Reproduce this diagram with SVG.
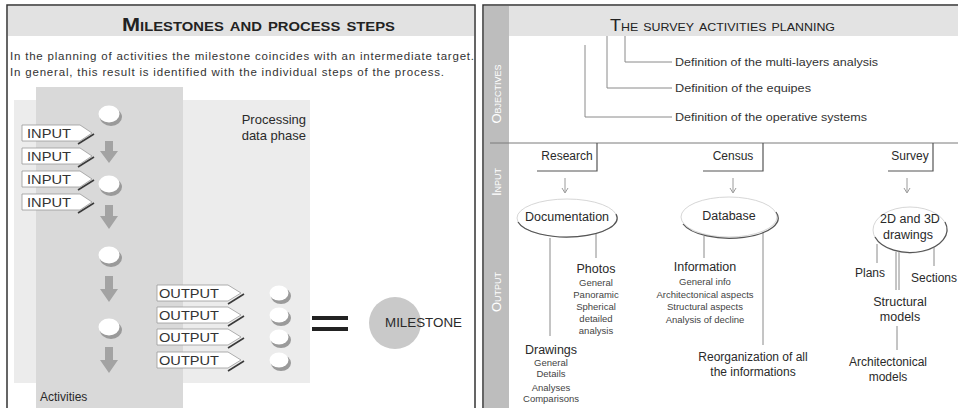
<svg xmlns="http://www.w3.org/2000/svg" width="958" height="408" viewBox="0 0 958 408">
<style>
text{font-family:"Liberation Sans",Arial,sans-serif;fill:#2a2a2a}
.ttl{font-size:19px;font-variant:small-caps;font-weight:bold;fill:#222}
.ttl2{font-size:16px;font-variant:small-caps;fill:#222}
.intro{font-size:11.5px;fill:#333}
.tag{fill:#fff;stroke:#9a9a9a;stroke-width:0.8}
.tsh{stroke:#3a3a3a;stroke-width:1.6;fill:none}
.tagt{font-size:13px;fill:#333}
.sh{fill:#9a9a9a}
.wc{fill:#fff}
.blk{fill:#a3a3a3}
.ln{stroke:#8a8a8a;stroke-width:1;fill:none}
.def{font-size:11px;fill:#333}
.side{font-size:13px;font-variant:small-caps;fill:#fff;text-anchor:middle}
.lbl{font-size:12px;text-anchor:middle}
.big{font-size:12.5px;text-anchor:middle}
.sm{font-size:9.5px;text-anchor:middle;fill:#444}
.box{fill:#fff}
.boxsh{stroke:#555;stroke-width:1.2;fill:none}
.ell{fill:#fff;stroke:#ccc;stroke-width:0.8}
.ellsh{stroke:#555;stroke-width:1.2;fill:none}
</style>
<rect width="958" height="408" fill="#fff"/>

<!-- LEFT PANEL -->
<g id="left-panel">
<rect x="7" y="5" width="468" height="410" fill="#fff" stroke="#333" stroke-width="1.5"/>
<rect x="8" y="6" width="466" height="30" fill="#e2e2e2"/>
<text class="ttl" x="122" y="31" textLength="273" lengthAdjust="spacingAndGlyphs">Milestones and process steps</text>
<text class="intro" x="10" y="60" textLength="464" lengthAdjust="spacing">In the planning of activities the milestone coincides with an intermediate target.</text>
<text class="intro" x="10" y="76" textLength="434" lengthAdjust="spacing">In general, this result is identified with the individual steps of the process.</text>
<rect x="14" y="100" width="296" height="283" fill="#ececec"/>
<rect x="36" y="87" width="147" height="321" fill="#d9d9d9"/>
<text x="306" y="124" font-size="13" text-anchor="end" fill="#333">Processing</text>
<text x="306" y="140" font-size="13" text-anchor="end" fill="#333">data phase</text>
<text x="40" y="401" font-size="12" fill="#333">Activities</text>
</g>

<g id="connectors-left">
<polygon class="blk" points="105,141 113,141 113,151 118,151 109,163 100,151 105,151"/>
<polygon class="blk" points="105,205 113,205 113,216 118,216 109,229 100,216 105,216"/>
<polygon class="blk" points="105,276 113,276 113,289 118,289 109,302 100,289 105,289"/>
<polygon class="blk" points="105,347 113,347 113,360 118,360 109,373 100,360 105,360"/>
</g>

<g id="activity-steps">
<ellipse class="sh" cx="111" cy="117" rx="11" ry="9"/><ellipse class="wc" cx="109" cy="114" rx="10.5" ry="8.5"/>
<ellipse class="sh" cx="111" cy="187" rx="11" ry="9"/><ellipse class="wc" cx="109" cy="184" rx="10.5" ry="8.5"/>
<ellipse class="sh" cx="111" cy="258" rx="11" ry="9"/><ellipse class="wc" cx="109" cy="255" rx="10.5" ry="8.5"/>
<ellipse class="sh" cx="111" cy="330" rx="11" ry="9"/><ellipse class="wc" cx="109" cy="327" rx="10.5" ry="8.5"/>
</g>

<g id="input-1"><line class="tsh" x1="78" y1="144" x2="94" y2="134"/><polygon class="tag" points="22,125 80,125 92,133 80,141 22,141"/><text class="tagt" x="27" y="138" textLength="44" lengthAdjust="spacingAndGlyphs">INPUT</text></g>
<g id="input-2"><line class="tsh" x1="78" y1="167" x2="94" y2="157"/><polygon class="tag" points="22,148 80,148 92,156 80,164 22,164"/><text class="tagt" x="27" y="161" textLength="44" lengthAdjust="spacingAndGlyphs">INPUT</text></g>
<g id="input-3"><line class="tsh" x1="78" y1="190" x2="94" y2="180"/><polygon class="tag" points="22,171 80,171 92,179 80,187 22,187"/><text class="tagt" x="27" y="184" textLength="44" lengthAdjust="spacingAndGlyphs">INPUT</text></g>
<g id="input-4"><line class="tsh" x1="78" y1="213" x2="94" y2="203"/><polygon class="tag" points="22,194 80,194 92,202 80,210 22,210"/><text class="tagt" x="27" y="207" textLength="44" lengthAdjust="spacingAndGlyphs">INPUT</text></g>

<g id="output-1"><line class="tsh" x1="228" y1="304" x2="244" y2="294"/><polygon class="tag" points="157,285 228,285 241,293 228,301 157,301"/><text class="tagt" x="159" y="298" textLength="60" lengthAdjust="spacingAndGlyphs">OUTPUT</text></g>
<g id="output-2"><line class="tsh" x1="228" y1="326" x2="244" y2="316"/><polygon class="tag" points="157,307 228,307 241,315 228,323 157,323"/><text class="tagt" x="159" y="320" textLength="60" lengthAdjust="spacingAndGlyphs">OUTPUT</text></g>
<g id="output-3"><line class="tsh" x1="228" y1="348" x2="244" y2="338"/><polygon class="tag" points="157,329 228,329 241,337 228,345 157,345"/><text class="tagt" x="159" y="342" textLength="60" lengthAdjust="spacingAndGlyphs">OUTPUT</text></g>
<g id="output-4"><line class="tsh" x1="228" y1="371" x2="244" y2="361"/><polygon class="tag" points="157,352 228,352 241,360 228,368 157,368"/><text class="tagt" x="159" y="365" textLength="60" lengthAdjust="spacingAndGlyphs">OUTPUT</text></g>

<g id="output-steps">
<ellipse class="sh" cx="281" cy="296" rx="10" ry="8"/><ellipse class="wc" cx="279" cy="293" rx="9.5" ry="7.5"/>
<ellipse class="sh" cx="281" cy="318" rx="10" ry="8"/><ellipse class="wc" cx="279" cy="315" rx="9.5" ry="7.5"/>
<ellipse class="sh" cx="281" cy="340" rx="10" ry="8"/><ellipse class="wc" cx="279" cy="337" rx="9.5" ry="7.5"/>
<ellipse class="sh" cx="281" cy="363" rx="10" ry="8"/><ellipse class="wc" cx="279" cy="360" rx="9.5" ry="7.5"/>
</g>

<g id="equals">
<rect x="312" y="316" width="36" height="4" fill="#222"/>
<rect x="312" y="327" width="36" height="4" fill="#222"/>
</g>

<g id="milestone">
<circle cx="395" cy="323" r="26" fill="#c9c9c9"/>
<text x="385" y="327" font-size="12" fill="#333" textLength="77" lengthAdjust="spacingAndGlyphs">MILESTONE</text>
</g>

<!-- RIGHT PANEL -->
<g id="right-panel">
<rect x="483" y="5" width="480" height="410" fill="#fff" stroke="#333" stroke-width="1.5"/>
<rect x="484" y="6" width="25" height="402" fill="#bdbdbd"/>
<rect x="509" y="6" width="449" height="30" fill="#e3e3e3"/>
<text class="ttl2" x="610" y="31" textLength="225" lengthAdjust="spacingAndGlyphs">The survey activities planning</text>
<text class="side" transform="translate(501,94) rotate(-90)">Objectives</text>
<text class="side" transform="translate(501,182) rotate(-90)">Input</text>
<text class="side" transform="translate(501,292) rotate(-90)">Output</text>
</g>

<g id="connectors-right">
<polyline class="ln" points="625,36 625,62 672,62"/>
<polyline class="ln" points="607,36 607,88 672,88"/>
<polyline class="ln" points="585,45 585,117 672,117"/>
<line x1="490" y1="143" x2="958" y2="143" stroke="#7a7a7a" stroke-width="1"/>
<g stroke="#9a9a9a" stroke-width="1" fill="none">
<path d="M565,178 V192 M562,188 L565,193 L568,188"/>
<path d="M733,178 V192 M730,188 L733,193 L736,188"/>
<path d="M907,178 V192 M904,188 L907,193 L910,188"/>
</g>
<line class="ln" x1="550" y1="238" x2="550" y2="336"/>
<line class="ln" x1="596" y1="234" x2="596" y2="258"/>
<line class="ln" x1="704" y1="236" x2="704" y2="258"/>
<line class="ln" x1="763" y1="232" x2="763" y2="345"/>
<line class="ln" x1="877" y1="244" x2="877" y2="263"/>
<line class="ln" x1="896" y1="252" x2="896" y2="290"/>
<line class="ln" x1="899" y1="252" x2="899" y2="290"/>
<line class="ln" x1="934" y1="242" x2="934" y2="266"/>
<line class="ln" x1="897" y1="326" x2="897" y2="350"/>
</g>

<g id="objectives">
<text class="def" x="675" y="66" textLength="203" lengthAdjust="spacingAndGlyphs">Definition of the multi-layers analysis</text>
<text class="def" x="675" y="92" textLength="136" lengthAdjust="spacingAndGlyphs">Definition of the equipes</text>
<text class="def" x="675" y="121" textLength="192" lengthAdjust="spacingAndGlyphs">Definition of the operative systems</text>
</g>

<g id="research"><rect class="box" x="537" y="144" width="60" height="27"/><polyline class="boxsh" points="537,171 597,171 597,143"/><text class="lbl" x="567" y="160" font-size="10.5">Research</text></g>
<g id="census"><rect class="box" x="703" y="144" width="60" height="27"/><polyline class="boxsh" points="703,171 763,171 763,143"/><text class="lbl" x="733" y="160" font-size="10.5">Census</text></g>
<g id="survey"><rect class="box" x="888" y="144" width="45" height="27"/><polyline class="boxsh" points="888,171 933,171 933,143"/><text class="lbl" x="910" y="160" font-size="10.5">Survey</text></g>

<g id="documentation"><ellipse class="ell" cx="567" cy="218" rx="50" ry="19"/><path class="ellsh" d="M518,222 A50,19 0 0 0 616,214"/><text class="big" x="567" y="221">Documentation</text></g>
<g id="database"><ellipse class="ell" cx="729" cy="217" rx="48" ry="20"/><path class="ellsh" d="M683,224 A48,20 0 0 0 776,212"/><text class="big" x="729" y="220">Database</text></g>
<g id="drawings-2d3d"><ellipse class="ell" cx="910" cy="230" rx="37" ry="23"/><path class="ellsh" d="M875,237 A37,23 0 0 0 945,222"/><text class="big" x="910" y="223">2D and 3D</text><text class="big" x="908" y="239">drawings</text></g>

<g id="photos">
<text class="big" x="596" y="273" font-size="13">Photos</text>
<text class="sm" x="596" y="286">General</text>
<text class="sm" x="596" y="298">Panoramic</text>
<text class="sm" x="596" y="310">Spherical</text>
<text class="sm" x="596" y="322">detailed</text>
<text class="sm" x="596" y="334">analysis</text>
</g>
<g id="drawings">
<text class="big" x="551" y="354" font-size="13">Drawings</text>
<text class="sm" x="551" y="366">General</text>
<text class="sm" x="551" y="377">Details</text>
<text class="sm" x="551" y="391">Analyses</text>
<text class="sm" x="551" y="402" fill="#556">Comparisons</text>
</g>
<g id="information">
<text class="big" x="705" y="271">Information</text>
<text class="sm" x="705" y="285" font-size="10">General info</text>
<text class="sm" x="705" y="298" font-size="10">Architectonical aspects</text>
<text class="sm" x="705" y="310" font-size="10">Structural aspects</text>
<text class="sm" x="705" y="323" font-size="10">Analysis of decline</text>
</g>
<g id="reorganization">
<text class="lbl" x="753" y="361">Reorganization of all</text>
<text class="lbl" x="753" y="376">the informations</text>
</g>
<g id="plans"><text class="lbl" x="870" y="277">Plans</text></g>
<g id="sections"><text class="lbl" x="934" y="282">Sections</text></g>
<g id="structural"><text class="big" x="900" y="306">Structural</text><text class="big" x="900" y="321">models</text></g>
<g id="architectonical"><text class="lbl" x="888" y="366">Architectonical</text><text class="lbl" x="888" y="381">models</text></g>
</svg>
